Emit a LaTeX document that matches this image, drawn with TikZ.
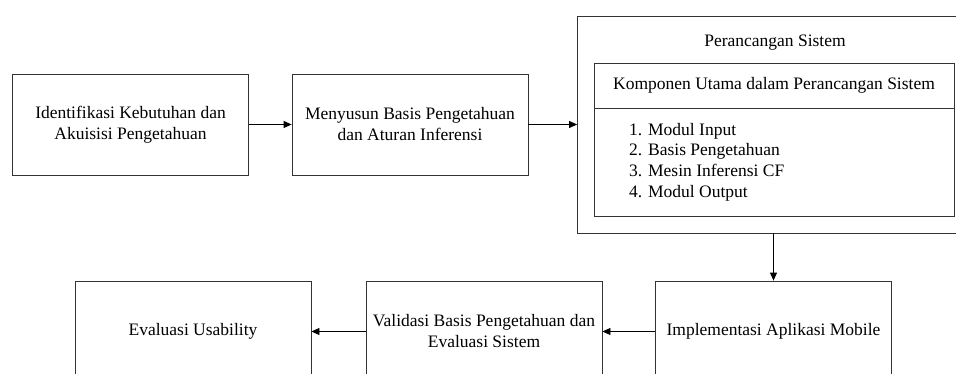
\documentclass[tikz,border=0pt]{standalone}
\usepackage{fontspec}
\setmainfont{Liberation Serif}
\usetikzlibrary{arrows.meta}

\begin{document}
\begin{tikzpicture}[x=1pt,y=-1pt]

\def\bw{236pt}
\def\bh{101pt}
\tikzstyle{block} = [
	draw=black!80, line width=.8pt, rectangle, align=center,
	minimum width=\bw, minimum height=\bh,
	font=\fontsize{17.5}{21}\selectfont ];
\tikzstyle{plain} = [draw=none,fill=none,inner sep=0pt,
	font=\fontsize{17.5}{20.7}\selectfont];
\tikzstyle{arr} = [-{Triangle[length=8pt,width=7pt]}, line width=.8pt];
\clip (0,0) rectangle (956,374);

% top row
\node[block] (ident) at (130.5,124.5) {Identifikasi Kebutuhan dan\\Akuisisi Pengetahuan};
\node[block] (basis) at (410,124.5) {Menyusun Basis Pengetahuan\\dan Aturan Inferensi};

% perancangan sistem
\node[block,minimum width=392pt,minimum height=217pt] (desain) at (773.5,124.5) {};
\node[plain] (judul) at (775,43) {Perancangan Sistem};
\node[block,minimum width=360pt,minimum height=45pt] (komp) at (774,85.5)
	{Komponen Utama dalam Perancangan Sistem};
\node[block,minimum width=360pt,minimum height=108pt,anchor=north] (modul) at (komp.south) {};
\node[plain,align=left,anchor=west] (daftar) at (629,162) {1. Modul Input\\2. Basis Pengetahuan\\3. Mesin Inferensi CF\\4. Modul Output};

% bottom row
\node[block] (impl) at (773.5,331.5) {Implementasi Aplikasi Mobile};
\node[block] (valid) at (484,331.5) {Validasi Basis Pengetahuan dan\\Evaluasi Sistem};
\node[block] (eval) at (193,331.5) {Evaluasi Usability};

\draw[arr] (ident) -- (basis);
\draw[arr] (basis) -- (desain);
\draw[arr] (desain) -- (impl);
\draw[arr] (impl) -- (valid);
\draw[arr] (valid) -- (eval);

\end{tikzpicture}
\end{document}
